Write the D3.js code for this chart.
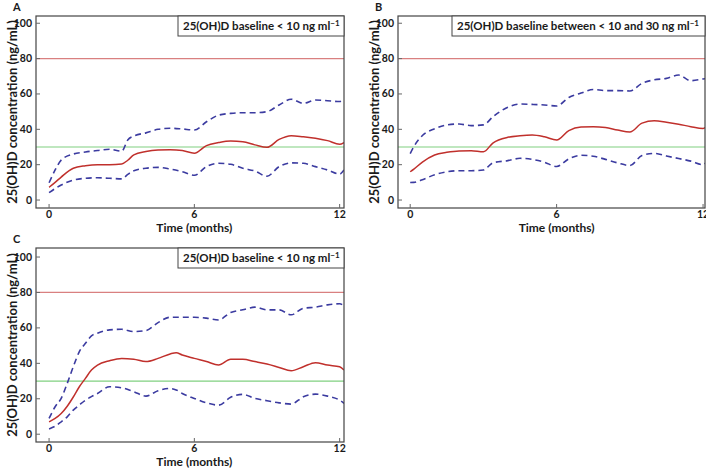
<!DOCTYPE html>
<meta charset="utf-8">
<script src="https://d3js.org/d3.v7.min.js"></script>
<style>
  body { margin: 0; background: #fff; }
  text { font-family: Lato, "Open Sans", sans-serif; font-weight: bold; fill: #1a1a1a; }
</style>
<div id="my_dataviz"></div>
<script>

// ---- data (months, ng/mL) ----
var timesA = [0, 0.25, 0.5, 1, 1.5, 2, 2.5, 3, 3.25, 3.5, 4, 4.5, 5, 5.5, 6, 6.5, 7, 7.5, 8, 8.5, 9, 9.5, 10, 10.5, 11, 11.5, 12, 12.18];
var medianA = [7.2, 10, 13, 18, 19.4, 20, 20, 20.4, 22.5, 25.5, 27.4, 28.3, 28.5, 28, 26.5, 30.8, 32.5, 33.4, 33, 31.2, 29.8, 34.3, 36.4, 35.8, 35, 33.6, 31.5, 32.5];
var upperA  = [9.8, 17, 22.6, 26, 27.2, 28, 28.7, 27.6, 34, 36.2, 38, 40, 40.6, 40.2, 39.6, 44.3, 48, 49, 49.4, 49.4, 50, 53.8, 57, 54.7, 56.6, 56.2, 55.7, 56.6];
var lowerA  = [4.2, 6.5, 8.5, 11.3, 12.3, 12.6, 12.3, 12, 14.5, 16.6, 18, 18.5, 17.5, 16, 14, 18.9, 20.8, 20.2, 18, 16.4, 13.5, 18.9, 21, 20.8, 18.9, 17, 14.7, 17];

var timesB = [0, 0.15, 0.5, 1, 1.5, 2, 2.5, 3, 3.4, 4, 4.5, 5, 5.5, 6, 6.5, 7, 7.5, 8, 8.5, 9, 9.5, 10, 10.5, 11, 11.5, 12, 12.15];
var medianB = [16, 17.5, 21.5, 25.5, 27, 27.8, 27.9, 27.3, 32.4, 35.5, 36.4, 36.8, 35.8, 34, 39.3, 41.3, 41.5, 41, 39.6, 38.5, 43.5, 44.8, 44, 42.9, 41.5, 40.5, 41.5];
var upperB  = [26.3, 30.2, 36.5, 40.3, 42.5, 43, 42.1, 42.5, 47.2, 52.5, 54.3, 54.1, 53.8, 53.2, 58, 60.5, 62.5, 61.9, 61.9, 61.7, 66, 68, 68.8, 70.7, 67.5, 68.5, 68.8];
var lowerB  = [9.9, 10, 11.5, 14.3, 16, 16.6, 16.6, 17, 21.1, 22.3, 23.6, 23, 21.4, 19, 23.3, 25.3, 24.8, 23, 21, 19.5, 25.2, 26.4, 24.9, 23.5, 22, 20, 21.7];

var timesC = [0, 0.25, 0.5, 0.75, 1, 1.25, 1.5, 1.75, 2, 2.5, 3, 3.5, 4, 4.5, 5, 5.25, 5.5, 6, 6.5, 7, 7.5, 8, 8.5, 9, 9.5, 10, 10.5, 11, 11.5, 12, 12.18];
var medianC = [7, 8.9, 11.7, 15.8, 21, 26.8, 31.5, 36.2, 39, 41.5, 42.8, 42.3, 41, 42.8, 45.3, 46, 44.7, 42.8, 41, 39, 42.3, 42.3, 41, 39.6, 37.7, 35.8, 38.1, 40.4, 39, 38.1, 36.2];
var upperC  = [8.9, 15.5, 20.2, 28.7, 38.1, 46.6, 51.3, 55.5, 57, 58.9, 59.2, 57.9, 58.5, 63, 66, 66, 66, 66, 65.5, 64.5, 68.7, 70.2, 71.7, 70.2, 70.2, 67.4, 71.1, 71.7, 73, 73.6, 72.5];
var lowerC  = [3, 4.5, 7, 9.8, 13.6, 16.5, 19.2, 21.2, 23, 26.8, 26.2, 24, 21.5, 24.5, 25.8, 25, 23, 20.2, 17.7, 16.4, 20.8, 22.5, 20.2, 18.9, 17.7, 17, 21.1, 22.6, 21.5, 19.2, 17.4];

var xTicks = [0, 6, 12];
var yTicks = [0, 20, 40, 60, 80, 100];
var upperLimit = 80, lowerLimit = 30;

var panels = [
  {id: "A", label: "25(OH)D baseline < 10 ng ml", times: timesA, median: medianA, upper: upperA, lower: lowerA,
   left: 36, top: 16, right: 344, bottom: 208, xdom: [-0.54, 12.18], ydom: [-4.5, 104.1], boxW: 166},
  {id: "B", label: "25(OH)D baseline between < 10 and 30 ng ml", times: timesB, median: medianB, upper: upperB, lower: lowerB,
   left: 398, top: 16, right: 705, bottom: 208, xdom: [-0.5, 12.08], ydom: [-4.5, 104.1], boxW: 253},
  {id: "C", label: "25(OH)D baseline < 10 ng ml", times: timesC, median: medianC, upper: upperC, lower: lowerC,
   left: 36, top: 248, right: 344, bottom: 442, xdom: [-0.54, 12.18], ydom: [-4.4, 105.1], boxW: 166}
];

var svg = d3.select("#my_dataviz")
  .append("svg")
    .attr("width", 706)
    .attr("height", 470);

var defs = svg.append("defs");

panels.forEach(function(p) {
  var x = d3.scaleLinear().domain(p.xdom).range([p.left, p.right]);
  var y = d3.scaleLinear().domain(p.ydom).range([p.bottom, p.top]);
  var g = svg.append("g");

  defs.append("clipPath").attr("id", "clip" + p.id)
    .append("rect")
      .attr("x", p.left).attr("y", p.top)
      .attr("width", p.right - p.left).attr("height", p.bottom - p.top);

  var plot = g.append("g").attr("clip-path", "url(#clip" + p.id + ")");

  // reference lines
  plot.append("line")
    .attr("x1", p.left).attr("x2", p.right)
    .attr("y1", y(upperLimit)).attr("y2", y(upperLimit))
    .attr("stroke", "#d98080").attr("stroke-width", 1.2);
  plot.append("line")
    .attr("x1", p.left).attr("x2", p.right)
    .attr("y1", y(lowerLimit)).attr("y2", y(lowerLimit))
    .attr("stroke", "#80d080").attr("stroke-width", 1.2);

  var line = function(vals) {
    return d3.line()
      .x(function(d, i) { return x(p.times[i]); })
      .y(function(d) { return y(d); })
      .curve(d3.curveMonotoneX)(vals);
  };

  // percentile bands
  [p.upper, p.lower].forEach(function(vals) {
    plot.append("path")
      .attr("d", line(vals))
      .attr("fill", "none")
      .attr("stroke", "#3b3ba0")
      .attr("stroke-width", 1.6)
      .attr("stroke-dasharray", "6,4");
  });

  // median
  plot.append("path")
    .attr("d", line(p.median))
    .attr("fill", "none")
    .attr("stroke", "#c0302c")
    .attr("stroke-width", 1.5);

  // frame
  g.append("rect")
    .attr("x", p.left).attr("y", p.top)
    .attr("width", p.right - p.left).attr("height", p.bottom - p.top)
    .attr("fill", "none").attr("stroke", "#444").attr("stroke-width", 1.2);

  // ticks (pointing inward)
  g.selectAll(".yt").data(yTicks).enter().append("line")
    .attr("x1", p.left).attr("x2", p.left + 4)
    .attr("y1", function(d) { return y(d); }).attr("y2", function(d) { return y(d); })
    .attr("stroke", "#666");
  g.selectAll(".ytl").data(yTicks).enter().append("text")
    .attr("x", p.left - 4)
    .attr("y", function(d) { return y(d) + 3.5; })
    .style("text-anchor", "end")
    .style("font-size", "10.5px")
    .text(function(d) { return d; });

  g.selectAll(".xt").data(xTicks).enter().append("line")
    .attr("x1", function(d) { return x(d); }).attr("x2", function(d) { return x(d); })
    .attr("y1", p.bottom).attr("y2", p.bottom - 4)
    .attr("stroke", "#666");
  g.selectAll(".xtl").data(xTicks).enter().append("text")
    .attr("x", function(d) { return x(d); })
    .attr("y", p.bottom + 9.5)
    .style("text-anchor", "middle")
    .style("font-size", "10.5px")
    .text(function(d) { return d; });

  // axis titles
  g.append("text")
    .attr("x", x(6))
    .attr("y", p.bottom + 24)
    .style("text-anchor", "middle")
    .style("font-size", "12px")
    .text("Time (months)");
  g.append("text")
    .attr("transform", "translate(" + (p.left - 19) + "," + ((p.top + p.bottom) / 2) + ")rotate(-90)")
    .style("text-anchor", "middle")
    .style("font-size", "13px")
    .text("25(OH)D concentration (ng/mL)");

  // panel letter
  g.append("text")
    .attr("x", p.left - 23)
    .attr("y", p.top - 5)
    .style("font-size", "11px")
    .text(p.id);

  // legend box
  var bx = p.right - p.boxW;
  g.append("rect")
    .attr("x", bx).attr("y", p.top)
    .attr("width", p.boxW).attr("height", 20)
    .attr("fill", "#fff").attr("stroke", "#444").attr("stroke-width", 1);
  var t = g.append("text")
    .attr("x", bx + 5)
    .attr("y", p.top + 14)
    .style("font-size", "11.5px");
  t.append("tspan").text(p.label);
  t.append("tspan").attr("dy", -4).style("font-size", "8px").text("−1");
});

</script>
